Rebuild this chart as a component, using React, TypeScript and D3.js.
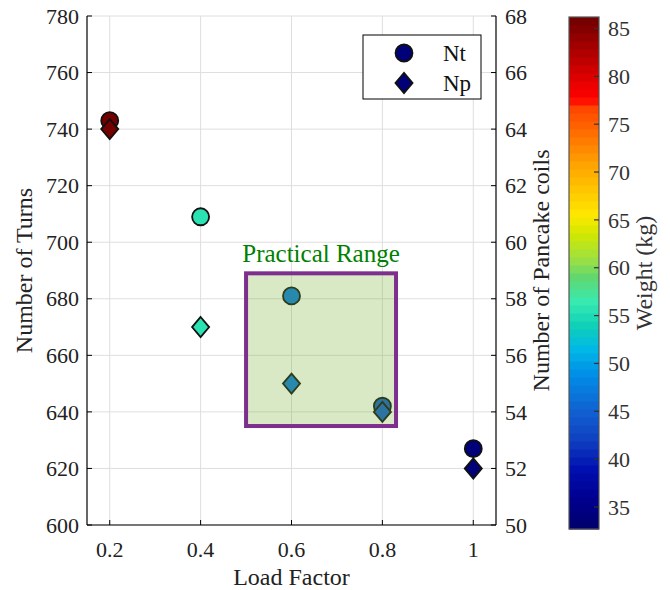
import React from "react";
import * as d3 from "d3";

const WIDTH = 670;
const HEIGHT = 590;
const PLOT = { left: 87, right: 496, top: 16, bottom: 525 };
const CBAR = { left: 569, right: 599, top: 17, bottom: 529 };
const FONT = 'Tinos, "Liberation Serif", "Times New Roman", Times, "DejaVu Serif", serif';

// data
const loadFactors = [0.2, 0.4, 0.6, 0.8, 1.0];
const turns = [743, 709, 681, 642, 627];
const pancakes = [64, 57, 55, 54, 52];
const weights = [85.5, 56, 47, 44.5, 34];

const xTicks = [0.2, 0.4, 0.6, 0.8, 1];
const leftTicks = [600, 620, 640, 660, 680, 700, 720, 740, 760, 780];
const rightTicks = [50, 52, 54, 56, 58, 60, 62, 64, 66, 68];
const cbarTicks = [35, 40, 45, 50, 55, 60, 65, 70, 75, 80, 85];

const rangeLoad = [0.5, 0.83];
const rangeTurns = [635, 689];

const cmapStops = [33, 36, 39, 42, 45, 49, 51.5, 54, 56.5, 59, 61, 63.5, 65.5, 68, 71, 74, 77, 77.6, 79, 82, 86.2];
const cmapColors = [
  "#00006e", "#000090", "#0010b0", "#1040c0", "#1060d0", "#0090e8", "#00b8e6", "#10d0b8",
  "#38eab0", "#60d870", "#a0e040", "#d0e800", "#ffe800", "#ffc800", "#ffa000", "#ff7000",
  "#ff4000", "#ff0000", "#ee0000", "#b80000", "#6e0000"
];

const x = d3.scaleLinear().domain([0.15, 1.05]).range([PLOT.left, PLOT.right]);
const yL = d3.scaleLinear().domain([600, 780]).range([PLOT.bottom, PLOT.top]);
const yR = d3.scaleLinear().domain([50, 68]).range([PLOT.bottom, PLOT.top]);
const cbarDomain: [number, number] = [32.7, 86.2];
const yC = d3.scaleLinear().domain(cbarDomain).range([CBAR.bottom, CBAR.top]);

const cmap = d3.scaleLinear<string>().domain(cmapStops).range(cmapColors).interpolate(d3.interpolateRgb).clamp(true);
const LEVELS = 64;
const step = (cbarDomain[1] - cbarDomain[0]) / LEVELS;
const levelColor = (v: number) => {
  const i = Math.max(0, Math.min(LEVELS - 1, Math.floor((v - cbarDomain[0]) / step)));
  return cmap(cbarDomain[0] + (i + 0.5) * step);
};

const tallDiamond = {
  draw(ctx: any, size: number) {
    const h = Math.sqrt(size) * 0.58;
    const w = h * 0.85;
    ctx.moveTo(0, -h);
    ctx.lineTo(w, 0);
    ctx.lineTo(0, h);
    ctx.lineTo(-w, 0);
    ctx.closePath();
  }
};
const diamondPath = d3.symbol().type(tallDiamond).size(300)()!;

export default function App() {
  const levels = d3.range(LEVELS);
  return (
    <svg width={WIDTH} height={HEIGHT} style={{ position: "absolute", left: 0, top: 0, background: "#fff", fontFamily: FONT }}>
      {/* grid */}
      {xTicks.map(t => (
        <line key={"gx" + t} x1={x(t)} x2={x(t)} y1={PLOT.top} y2={PLOT.bottom} stroke="#dedede" strokeWidth={1} />
      ))}
      {leftTicks.map(t => (
        <line key={"gy" + t} x1={PLOT.left} x2={PLOT.right} y1={yL(t)} y2={yL(t)} stroke="#dedede" strokeWidth={1} />
      ))}

      {/* markers */}
      {loadFactors.map((lf, i) => (
        <circle key={"c" + i} cx={x(lf)} cy={yL(turns[i])} r={8.5} fill={levelColor(weights[i])} stroke="#111" strokeWidth={1.8} />
      ))}
      {loadFactors.map((lf, i) => (
        <path key={"d" + i} d={diamondPath} transform={`translate(${x(lf)},${yR(pancakes[i])})`} fill={levelColor(weights[i])} stroke="#111" strokeWidth={1.8} />
      ))}

      {/* practical range */}
      <rect
        x={x(rangeLoad[0])}
        y={yL(rangeTurns[1])}
        width={x(rangeLoad[1]) - x(rangeLoad[0])}
        height={yL(rangeTurns[0]) - yL(rangeTurns[1])}
        fill="#77ac30"
        fillOpacity={0.28}
        stroke="#7e2f8e"
        strokeWidth={4}
      />
      <text x={(x(rangeLoad[0]) + x(rangeLoad[1])) / 2} y={262} textAnchor="middle" fontSize={25} fill="#008000">Practical Range</text>

      {/* axes */}
      <line x1={PLOT.left} x2={PLOT.left} y1={PLOT.top} y2={PLOT.bottom} stroke="#000" strokeWidth={1.2} />
      <line x1={PLOT.right} x2={PLOT.right} y1={PLOT.top} y2={PLOT.bottom} stroke="#000" strokeWidth={1.2} />
      <line x1={PLOT.left} x2={PLOT.right} y1={PLOT.bottom} y2={PLOT.bottom} stroke="#000" strokeWidth={1.2} />
      {leftTicks.map(t => (
        <g key={"lt" + t}>
          <line x1={PLOT.left} x2={PLOT.left + 5} y1={yL(t)} y2={yL(t)} stroke="#000" />
          <text x={PLOT.left - 8} y={yL(t)} dy="0.35em" textAnchor="end" fontSize={22} fill="#222">{t}</text>
        </g>
      ))}
      {rightTicks.map(t => (
        <g key={"rt" + t}>
          <line x1={PLOT.right - 5} x2={PLOT.right} y1={yR(t)} y2={yR(t)} stroke="#000" />
          <text x={PLOT.right + 9} y={yR(t)} dy="0.35em" textAnchor="start" fontSize={22} fill="#222">{t}</text>
        </g>
      ))}
      {xTicks.map(t => (
        <g key={"xt" + t}>
          <line x1={x(t)} x2={x(t)} y1={PLOT.bottom} y2={PLOT.bottom - 5} stroke="#000" />
          <text x={x(t)} y={557} textAnchor="middle" fontSize={22} fill="#222">{String(t)}</text>
        </g>
      ))}
      <text x={(PLOT.left + PLOT.right) / 2} y={585} textAnchor="middle" fontSize={24} fill="#222">Load Factor</text>
      <text transform={`translate(32,${(PLOT.top + PLOT.bottom) / 2}) rotate(-90)`} textAnchor="middle" fontSize={24} fill="#222">Number of Turns</text>
      <text transform={`translate(549,${(PLOT.top + PLOT.bottom) / 2}) rotate(-90)`} textAnchor="middle" fontSize={24} fill="#222">Number of Pancake coils</text>

      {/* legend */}
      <rect x={363} y={35} width={118} height={64} fill="#fff" stroke="#000" strokeWidth={1} />
      <circle cx={404} cy={53} r={8.5} fill={levelColor(34)} stroke="#111" strokeWidth={1.8} />
      <path d={diamondPath} transform="translate(404,83)" fill={levelColor(34)} stroke="#111" strokeWidth={1.8} />
      <text x={443} y={53} dy="0.35em" fontSize={23} fill="#111">Nt</text>
      <text x={443} y={83} dy="0.35em" fontSize={23} fill="#111">Np</text>

      {/* colorbar */}
      {levels.map(i => {
        const v0 = cbarDomain[0] + i * step;
        return (
          <rect key={"cb" + i} x={CBAR.left} width={CBAR.right - CBAR.left} y={yC(v0 + step)} height={yC(v0) - yC(v0 + step) + 0.5} fill={levelColor(v0 + step / 2)} />
        );
      })}
      <rect x={CBAR.left} y={CBAR.top} width={CBAR.right - CBAR.left} height={CBAR.bottom - CBAR.top} fill="none" stroke="#555" strokeWidth={1.2} />
      {cbarTicks.map(t => (
        <g key={"ct" + t}>
          <line x1={CBAR.right - 5} x2={CBAR.right} y1={yC(t)} y2={yC(t)} stroke="#333" strokeWidth={1.2} />
          <text x={CBAR.right + 9} y={yC(t)} dy="0.35em" fontSize={22} fill="#333">{t}</text>
        </g>
      ))}
      <text transform={`translate(652,${(CBAR.top + CBAR.bottom) / 2}) rotate(-90)`} textAnchor="middle" fontSize={24} fill="#333">Weight (kg)</text>
    </svg>
  );
}
